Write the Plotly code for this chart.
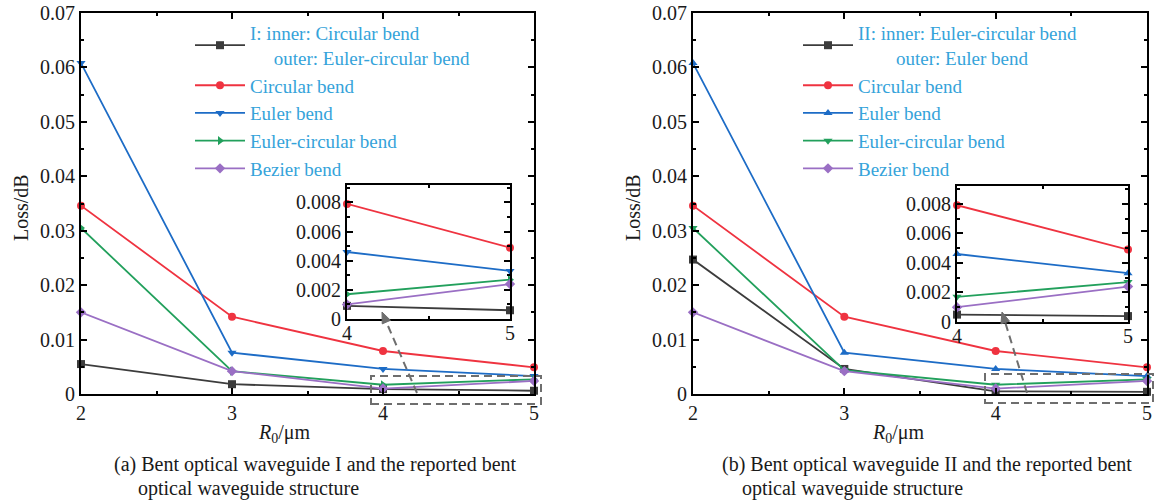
import plotly.graph_objects as go

# ---------------- data ----------------
R0 = [2, 3, 4, 5]
R0_inset = [4, 5]

# panel (a)
a_struct_I = [0.0055, 0.0018, 0.0009, 0.0006]
a_circular = [0.0346, 0.0142, 0.0079, 0.0049]
a_euler = [0.0608, 0.0076, 0.0046, 0.0033]
a_euler_circ = [0.0305, 0.0042, 0.0017, 0.0027]
a_bezier = [0.0150, 0.0042, 0.0010, 0.0024]

# panel (b)
b_struct_II = [0.0247, 0.0046, 0.0005, 0.0004]
b_circular = [0.0346, 0.0142, 0.0079, 0.0049]
b_euler = [0.0608, 0.0076, 0.0046, 0.0033]
b_euler_circ = [0.0305, 0.0044, 0.0017, 0.0027]
b_bezier = [0.0150, 0.0042, 0.0010, 0.0024]

NB = "\u00a0"
names_a = ["I: inner: Circular bend<br>" + NB * 5 + "outer: Euler-circular bend",
           "Circular bend", "Euler bend", "Euler-circular bend", "Bezier bend"]
names_b = ["II: inner: Euler-circular bend<br>" + NB * 8 + "outer: Euler bend",
           "Circular bend", "Euler bend", "Euler-circular bend", "Bezier bend"]

y_ticks_main = [0, 0.01, 0.02, 0.03, 0.04, 0.05, 0.06, 0.07]
y_ticks_inset = [0, 0.002, 0.004, 0.006, 0.008]

caption_a = ["(a) Bent optical waveguide I and the reported bent", "optical waveguide structure"]
caption_b = ["(b) Bent optical waveguide II and the reported bent", "optical waveguide structure"]

# ---------------- styles ----------------
FONT = "Liberation Serif"
colors = ["#3c3c3c", "#ef3340", "#1d6cc6", "#22a05c", "#9a6fc4"]
symbols_a = ["square", "circle", "triangle-down", "triangle-right", "diamond"]
symbols_b = ["square", "circle", "triangle-up", "triangle-down", "diamond"]
LEG_COLOR = "#35a3da"
GRAY = "#6e6e6e"
TXT = "#1a1a1a"

W, H = 1154, 500


def px_x(p):
    return p / W


def px_y(p):
    return (H - p) / H


fig = go.Figure()

series_a = [a_struct_I, a_circular, a_euler, a_euler_circ, a_bezier]
series_b = [b_struct_II, b_circular, b_euler, b_euler_circ, b_bezier]


def add_series(series, names, symbols, xa, ya, xi, yi, leg):
    for i, ys in enumerate(series):
        fig.add_trace(go.Scatter(x=R0, y=ys, mode="lines+markers", name=names[i],
                                 line=dict(color=colors[i], width=1.8),
                                 marker=dict(symbol=symbols[i], size=8, color=colors[i]),
                                 xaxis=xa, yaxis=ya, cliponaxis=False, legend=leg))
        fig.add_trace(go.Scatter(x=R0_inset, y=ys[2:], mode="lines+markers", showlegend=False,
                                 line=dict(color=colors[i], width=1.8),
                                 marker=dict(symbol=symbols[i], size=8, color=colors[i]),
                                 xaxis=xi, yaxis=yi, cliponaxis=False))


add_series(series_a, names_a, symbols_a, "x", "y", "x3", "y3", "legend")
add_series(series_b, names_b, symbols_b, "x2", "y2", "x4", "y4", "legend2")

tickfont = dict(family=FONT, size=20, color=TXT)
axis_common = dict(showline=True, linewidth=2, linecolor="black", mirror="ticks",
                   ticks="inside", ticklen=6, tickwidth=1.5, tickcolor="black",
                   showgrid=False, zeroline=False, tickfont=tickfont, automargin=False)
minor_x = dict(dtick=0.5, ticks="inside", ticklen=3, tickcolor="black", showgrid=False)


def minor_y(d):
    return dict(dtick=d, ticks="inside", ticklen=3, tickcolor="black", showgrid=False)


main_y_dom = [px_y(394), px_y(13)]
fig.update_layout(
    xaxis=dict(domain=[px_x(81), px_x(534)], anchor="y", range=[2, 5], tickvals=R0,
               minor=minor_x, **axis_common),
    yaxis=dict(domain=main_y_dom, anchor="x", range=[0, 0.07], tickvals=y_ticks_main,
               minor=minor_y(0.005), **axis_common),
    xaxis2=dict(domain=[px_x(693), px_x(1147)], anchor="y2", range=[2, 5], tickvals=R0,
                minor=minor_x, **axis_common),
    yaxis2=dict(domain=main_y_dom, anchor="x2", range=[0, 0.07], tickvals=y_ticks_main,
                minor=minor_y(0.005), **axis_common),
    xaxis3=dict(domain=[px_x(347), px_x(510)], anchor="y3", range=[4, 5], tickvals=R0_inset,
                minor=minor_x, ticklabelstandoff=-5, **axis_common),
    yaxis3=dict(domain=[px_y(319), px_y(185)], anchor="x3", range=[0, 0.0092], tickvals=y_ticks_inset,
                minor=minor_y(0.001), **axis_common),
    xaxis4=dict(domain=[px_x(957), px_x(1128)], anchor="y4", range=[4, 5], tickvals=R0_inset,
                minor=minor_x, ticklabelstandoff=-5, **axis_common),
    yaxis4=dict(domain=[px_y(322), px_y(186)], anchor="x4", range=[0, 0.0092], tickvals=y_ticks_inset,
                minor=minor_y(0.001), **axis_common),
)

legend_common = dict(font=dict(family=FONT, size=19, color=LEG_COLOR), bgcolor="rgba(0,0,0,0)",
                     itemwidth=50, xanchor="left", yanchor="top", tracegroupgap=0,
                     borderwidth=0, itemclick=False, itemdoubleclick=False)
fig.update_layout(
    legend=dict(x=px_x(190), y=px_y(14), **legend_common),
    legend2=dict(x=px_x(798), y=px_y(14), **legend_common),
)

# axis titles and captions as annotations
ann_font = dict(family=FONT, size=20, color=TXT)
cap_font = dict(family=FONT, size=20, color=TXT)


def txt(text, x, y, xanchor="center", angle=0, font=ann_font):
    return dict(text=text, x=px_x(x), y=px_y(y), xref="paper", yref="paper",
                xanchor=xanchor, yanchor="middle", textangle=angle,
                showarrow=False, font=font)


annotations = [
    txt("Loss/dB", 21, 208, angle=-90),
    txt("Loss/dB", 633, 208, angle=-90),
    txt("<i>R</i><sub>0</sub>/μm", 284, 433),
    txt("<i>R</i><sub>0</sub>/μm", 898, 433),
    txt(caption_a[0], 112, 465, xanchor="left", font=cap_font),
    txt(caption_a[1], 136, 488, xanchor="left", font=cap_font),
    txt(caption_b[0], 720, 465, xanchor="left", font=cap_font),
    txt(caption_b[1], 740, 488, xanchor="left", font=cap_font),
]

# dashed pointer arrows: dashed line + solid triangular head
shapes = []
arrows = [((417, 393), (382, 312)), ((1027, 393), (1002, 312))]
HEAD_LEN, HEAD_HALF = 11, 4.5
for (tx, ty), (hx, hy) in arrows:
    dx, dy = tx - hx, ty - hy
    L = (dx ** 2 + dy ** 2) ** 0.5
    ux, uy = dx / L, dy / L
    bx, by = hx + ux * HEAD_LEN, hy + uy * HEAD_LEN
    shapes.append(dict(type="line", xref="paper", yref="paper", x0=px_x(tx), y0=px_y(ty),
                       x1=px_x(bx), y1=px_y(by), line=dict(color=GRAY, width=2, dash="8px,5px")))
    p1 = (bx - uy * HEAD_HALF, by + ux * HEAD_HALF)
    p2 = (bx + uy * HEAD_HALF, by - ux * HEAD_HALF)
    path = "M {:.5f},{:.5f} L {:.5f},{:.5f} L {:.5f},{:.5f} Z".format(
        px_x(hx), px_y(hy), px_x(p1[0]), px_y(p1[1]), px_x(p2[0]), px_y(p2[1]))
    shapes.append(dict(type="path", xref="paper", yref="paper", path=path,
                       fillcolor=GRAY, line=dict(color=GRAY, width=1)))

# zoom boxes
for (x0, y0, x1, y1) in [(371, 376, 541, 404), (985, 374, 1153, 403)]:
    shapes.append(dict(type="rect", xref="paper", yref="paper", x0=px_x(x0), x1=px_x(x1),
                       y0=px_y(y1), y1=px_y(y0), line=dict(color=GRAY, width=2, dash="8px,5px")))

fig.update_layout(template="none", annotations=annotations, shapes=shapes,
                  width=W, height=H, margin=dict(l=0, r=0, t=0, b=0, autoexpand=False),
                  paper_bgcolor="white", plot_bgcolor="rgba(0,0,0,0)",
                  font=dict(family=FONT, color=TXT), showlegend=True)

fig.write_html("out.html")
